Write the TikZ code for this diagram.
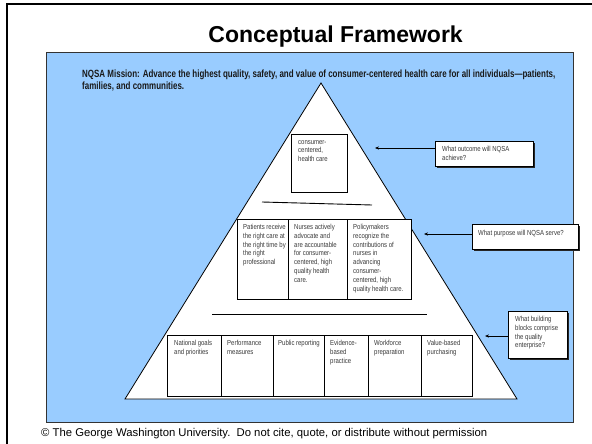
\documentclass[tikz,border=0pt]{standalone}
\usepackage{fontspec}
\setmainfont{Liberation Sans}
\newfontfamily\narrowfont[FakeStretch=0.82]{Liberation Sans}
\newfontfamily\missionfont[FakeStretch=0.76]{Liberation Sans}
\usetikzlibrary{positioning, shadows, arrows.meta}
\definecolor{skyfill}{HTML}{99CCFF}
\definecolor{notegray}{HTML}{383838}
\tikzset{
  tier/.style = {draw, line width=0.7pt, fill=white, anchor=north west, inner sep=0pt},
  tiertext/.style = {anchor=north west, inner sep=0pt, align=left, text=notegray,
                     font=\narrowfont\fontsize{7.3}{8.8}\selectfont},
  query/.style = {tier, drop shadow={shadow xshift=1.2pt, shadow yshift=-1.2pt, fill=black!85, opacity=1}},
  pointer/.style = {-{Stealth[length=4pt, width=3.2pt]}, line width=0.6pt},
  rule/.style = {line width=0.9pt}
}
\begin{document}
\begin{tikzpicture}[x=1pt, y=-1pt]
\useasboundingbox (0,0) rectangle (592,444);
% slide frame and blue field
\draw[line width=2.6pt] (7,444) -- (7,4) -- (592,4);
\path[fill=skyfill, draw=black!80, line width=0.8pt] (46,52) rectangle (573,422);
\node[anchor=base east, inner sep=0pt, font=\bfseries\fontsize{23}{27}\selectfont] (title) at (463,43) {Conceptual Framework};
\node[anchor=north west, inner sep=0pt, align=left, text=black!90, font=\missionfont\bfseries\fontsize{10.5}{12.3}\selectfont] (mission) at (82,69.5)
  {NQSA Mission: Advance the highest quality, safety, and value of consumer-centered health care for all individuals—patients,\\families, and communities.};
% pyramid
\coordinate (apex) at (321,83);
\coordinate (baseL) at (125,399);
\coordinate (baseR) at (517,399);
\draw[fill=white, line width=0.8pt] (apex) -- (baseR) -- (baseL) -- cycle;
% top tier
\node[tier, minimum width=56pt, minimum height=58pt] (c1) at (291,134) {};
\node[tiertext] (c1t) at ([xshift=7pt, yshift=-6pt]c1.north west) {consumer-\\centered,\\health care};
\draw[rule] (262,202) -- (372,205);
% middle tier
\node[tier, minimum width=51pt, minimum height=80pt] (m1) at (237,219) {};
\node[tier, minimum width=59pt, minimum height=80pt] (m2) at (288,219) {};
\node[tier, minimum width=64pt, minimum height=80pt] (m3) at (347,219) {};
\node[tiertext] (m1t) at ([xshift=6pt, yshift=-5pt]m1.north west) {Patients receive\\the right care at\\the right time by\\the right\\professional};
\node[tiertext] (m2t) at ([xshift=6pt, yshift=-5pt]m2.north west) {Nurses actively\\advocate and\\are accountable\\for consumer-\\centered, high\\quality health\\care.};
\node[tiertext] (m3t) at ([xshift=6pt, yshift=-5pt]m3.north west) {Policymakers\\recognize the\\contributions of\\nurses in\\advancing\\consumer-\\centered, high\\quality health care.};
\draw[rule] (212,314) -- (427,314);
% bottom tier
\node[tier, minimum width=54pt, minimum height=61pt] (b1) at (167,335) {};
\node[tier, minimum width=52pt, minimum height=61pt] (b2) at (221,335) {};
\node[tier, minimum width=51pt, minimum height=61pt] (b3) at (273,335) {};
\node[tier, minimum width=44pt, minimum height=61pt] (b4) at (324,335) {};
\node[tier, minimum width=53pt, minimum height=61pt] (b5) at (368,335) {};
\node[tier, minimum width=51pt, minimum height=61pt] (b6) at (421,335) {};
\node[tiertext] (b1t) at ([xshift=7pt, yshift=-5pt]b1.north west) {National goals\\and priorities};
\node[tiertext] (b2t) at ([xshift=6pt, yshift=-5pt]b2.north west) {Performance\\measures};
\node[tiertext] (b3t) at ([xshift=5pt, yshift=-5pt]b3.north west) {Public reporting};
\node[tiertext] (b4t) at ([xshift=6pt, yshift=-5pt]b4.north west) {Evidence-\\based\\practice};
\node[tiertext] (b5t) at ([xshift=6pt, yshift=-5pt]b5.north west) {Workforce\\preparation};
\node[tiertext] (b6t) at ([xshift=6pt, yshift=-5pt]b6.north west) {Value-based\\purchasing};
% questions
\node[query, minimum width=98pt, minimum height=25pt] (q1) at (435,141) {};
\node[query, minimum width=106pt, minimum height=25pt] (q2) at (472,224) {};
\node[query, minimum width=59pt, minimum height=47pt] (q3) at (508,311) {};
\node[tiertext] (q1t) at ([xshift=7pt, yshift=-5pt]q1.north west) {What outcome will NQSA\\achieve?};
\node[tiertext] (q2t) at ([xshift=6pt, yshift=-6.5pt]q2.north west) {What purpose will NQSA serve?};
\node[tiertext] (q3t) at ([xshift=7pt, yshift=-5pt]q3.north west) {What building\\blocks comprise\\the quality\\enterprise?};
\coordinate (tip1) at (375,148);
\coordinate (tip2) at (424,234);
\coordinate (tip3) at (485,336);
\draw[pointer] (q1.west |- tip1) -- (tip1);
\draw[pointer] (q2.west |- tip2) -- (tip2);
\draw[pointer] (q3.west |- tip3) -- (tip3);
\node[anchor=base west, inner sep=0pt, font=\fontsize{11.3}{13}\selectfont] (copy) at (41,436.5)
  {© The George Washington University.\ \ Do not cite, quote, or distribute without permission};
\end{tikzpicture}
\end{document}
